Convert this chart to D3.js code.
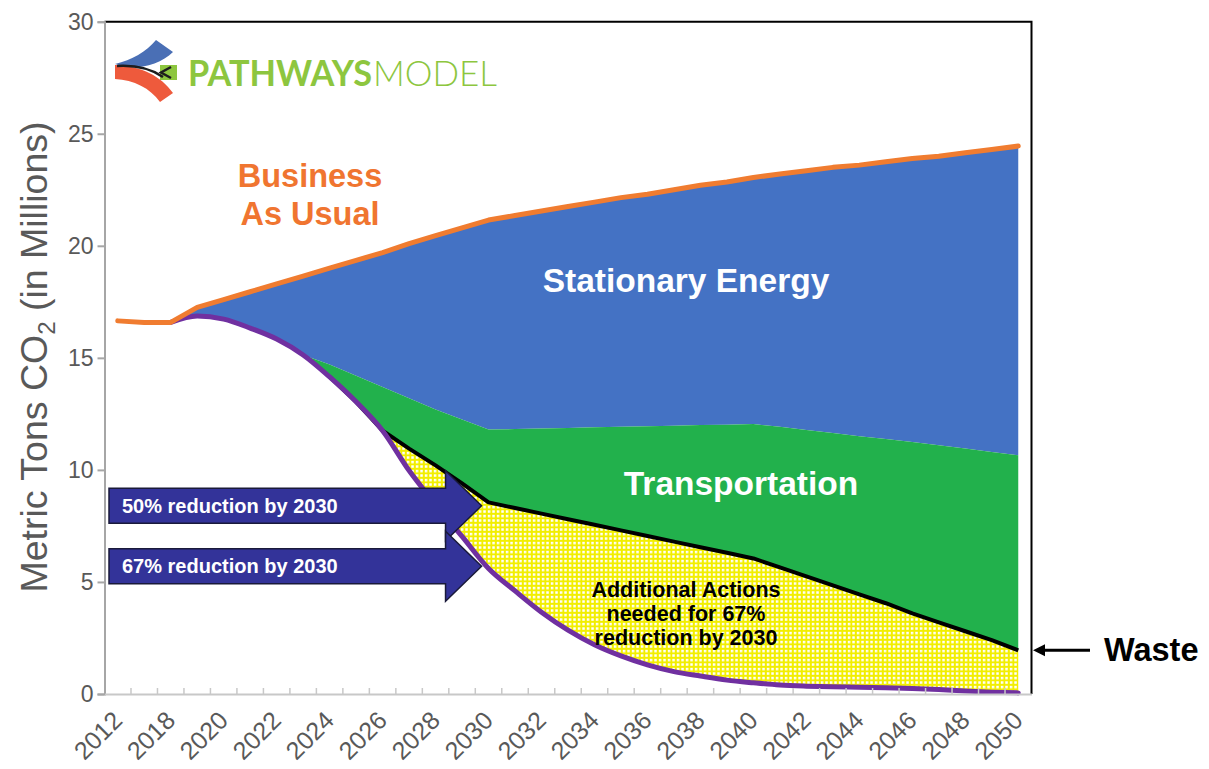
<!DOCTYPE html>
<html>
<head>
<meta charset="utf-8">
<script src="https://cdn.jsdelivr.net/npm/d3@7"></script>
<style>
  body { margin: 0; background: #fff; }
</style>
</head>
<body>
<div id="chart"></div>
<script>
const years = ['2012', '2017', '2018', '2019', '2020', '2021', '2022', '2023', '2024', '2025',
  '2026', '2027', '2028', '2029', '2030', '2031', '2032', '2033', '2034', '2035',
  '2036', '2037', '2038', '2039', '2040', '2041', '2042', '2043', '2044', '2045',
  '2046', '2047', '2048', '2049', '2050']

// business as usual (top of stationary energy)
const bau = [16.65, 16.58, 16.58, 17.25, 17.6, 17.95, 18.3, 18.65, 19.0, 19.35,
  19.7, 20.1, 20.45, 20.8, 21.15, 21.35, 21.55, 21.75, 21.95, 22.15,
  22.3, 22.5, 22.7, 22.85, 23.05, 23.2, 23.35, 23.5, 23.6, 23.75,
  23.9, 24.0, 24.15, 24.3, 24.45]
// top of transportation
const transportTop = [16.65, 16.58, 16.58, 16.87, 16.73, 16.33, 15.84, 15.13, 14.7, 14.2,
  13.7, 13.2, 12.7, 12.25, 11.8, 11.82, 11.85, 11.87, 11.9, 11.92,
  11.95, 11.97, 12.0, 12.02, 12.05, 11.92, 11.78, 11.65, 11.5, 11.38,
  11.25, 11.1, 10.95, 10.8, 10.65]
// waste line (50% path)
const waste = [16.65, 16.58, 16.58, 16.87, 16.73, 16.33, 15.84, 15.13, 14.15, 13.04,
  11.75, 10.95, 10.2, 9.4, 8.55, 8.3, 8.05, 7.8, 7.55, 7.3,
  7.05, 6.8, 6.55, 6.3, 6.05, 5.65, 5.25, 4.85, 4.45, 4.05,
  3.6, 3.2, 2.8, 2.4, 1.95]
// 67% reduction path
const path67 = [16.65, 16.58, 16.58, 16.87, 16.73, 16.33, 15.84, 15.13, 14.15, 13.04,
  11.75, 9.97, 8.46, 7.03, 5.6, 4.6, 3.65, 2.85, 2.2, 1.7,
  1.3, 1.0, 0.8, 0.62, 0.5, 0.4, 0.35, 0.32, 0.3, 0.28,
  0.25, 0.2, 0.13, 0.08, 0.05]

const yTicks = [0, 5, 10, 15, 20, 25, 30]
const arrowLabels = ['50% reduction by 2030', '67% reduction by 2030']
const arrowTargets = [8.4, 5.7]

const width = 1209
const height = 769
const marginTop = 21.7
const marginLeft = 104.5
const plotRight = 1031.5
const plotBottom = 694

const data = years.map((y, i) => ({ year: y, bau: bau[i], top: transportTop[i], waste: waste[i], p67: path67[i] }))

const svg = d3.select('#chart')
  .append('svg')
  .attr('width', width)
  .attr('height', height)
  .style('font-family', 'Liberation Sans, Arial, sans-serif')

const defs = svg.append('defs')
const pat = defs.append('pattern')
  .attr('id', 'hatch')
  .attr('patternUnits', 'userSpaceOnUse')
  .attr('width', 4.5)
  .attr('height', 4.5)
pat.append('rect').attr('width', 4.5).attr('height', 4.5).attr('fill', '#f2ee00')
pat.append('rect').attr('x', 1.8).attr('y', 1.8).attr('width', 2.5).attr('height', 2.5).attr('fill', '#ffffff')

const xScale = d3.scaleBand()
  .domain(years)
  .range([marginLeft, plotRight])
  .padding(0)
const cx = d => xScale(d) + xScale.bandwidth() / 2

const yScale = d3.scaleLinear()
  .domain([0, 30])
  .range([plotBottom, marginTop])

// areas
const blueArea = d3.area().x(d => cx(d.year)).y0(d => yScale(d.top)).y1(d => yScale(d.bau))
const greenArea = d3.area().x(d => cx(d.year)).y0(d => yScale(d.waste)).y1(d => yScale(d.top))
const yellowArea = d3.area().x(d => cx(d.year)).y0(yScale(0)).y1(d => yScale(d.waste))
const whiteArea = d3.area().x(d => cx(d.year)).y0(yScale(0)).y1(d => yScale(d.p67)).curve(d3.curveMonotoneX)

svg.append('path').datum(data).attr('d', blueArea).attr('fill', '#4472c4')
svg.append('path').datum(data).attr('d', greenArea).attr('fill', '#22b14c')
svg.append('path').datum(data.filter(d => +d.year >= 2024)).attr('d', yellowArea).attr('fill', 'url(#hatch)')
svg.append('path').datum(data).attr('d', whiteArea).attr('fill', '#ffffff')

const wasteLine = d3.line().x(d => cx(d.year)).y(d => yScale(d.waste))
const p67Line = d3.line().x(d => cx(d.year)).y(d => yScale(d.p67)).curve(d3.curveMonotoneX)
const bauLine = d3.line().x(d => cx(d.year)).y(d => yScale(d.bau))

svg.append('path').datum(data.filter(d => +d.year >= 2024)).attr('d', wasteLine)
  .attr('fill', 'none').attr('stroke', '#000').attr('stroke-width', 4).attr('stroke-linejoin', 'round')
svg.append('path').datum(data.filter(d => +d.year >= 2018)).attr('d', p67Line)
  .attr('fill', 'none').attr('stroke', '#7030a0').attr('stroke-width', 5).attr('stroke-linecap', 'round')
svg.append('path').datum(data).attr('d', bauLine)
  .attr('fill', 'none').attr('stroke', '#f07c30').attr('stroke-width', 5)
  .attr('stroke-linecap', 'round').attr('stroke-linejoin', 'round')

// frame: top and right black
svg.append('path')
  .attr('d', `M${marginLeft},${marginTop}H${plotRight}V${plotBottom}`)
  .attr('fill', 'none').attr('stroke', '#000').attr('stroke-width', 2)

// y axis
const yAxis = d3.axisLeft(yScale).tickValues(yTicks).tickSize(7).tickPadding(4).tickFormat(d3.format('d'))
const gy = svg.append('g').attr('transform', `translate(${marginLeft},0)`).call(yAxis)
gy.select('.domain').attr('stroke', '#a6a6a6').attr('stroke-width', 2)
gy.selectAll('.tick line').attr('stroke', '#a6a6a6').attr('stroke-width', 2)
gy.selectAll('.tick text').attr('fill', '#595959').style('font-size', '23px')
  .style('font-family', 'Liberation Sans, Arial, sans-serif')

// x axis
const xAxis = d3.axisBottom(xScale).tickSize(0).tickFormat((d, i) => i % 2 === 0 ? d : '')
const gx = svg.append('g').attr('transform', `translate(0,${plotBottom})`).call(xAxis)
gx.select('.domain').attr('stroke', '#c8c8c8').attr('stroke-width', 2)
gx.selectAll('.tick text')
  .attr('x', 0).attr('y', 0).attr('dy', 0)
  .attr('transform', 'translate(6,28) rotate(-45)')
  .attr('text-anchor', 'end')
  .attr('fill', '#595959')
  .style('font-size', '25px')
  .style('font-family', 'Liberation Sans, Arial, sans-serif')
// category boundary ticks, pointing up
svg.append('g')
  .selectAll('line')
  .data(years.slice(1))
  .enter()
  .append('line')
  .attr('x1', d => xScale(d)).attr('x2', d => xScale(d))
  .attr('y1', plotBottom).attr('y2', plotBottom - 6)
  .attr('stroke', '#c8c8c8').attr('stroke-width', 1.5)

// y axis title
svg.append('text')
  .attr('transform', 'translate(47,357) rotate(-90)')
  .attr('text-anchor', 'middle')
  .attr('fill', '#595959')
  .style('font-size', '37.5px')
  .call(t => {
    t.append('tspan').text('Metric Tons CO')
    t.append('tspan').text('2').style('font-size', '24px').attr('dy', 8)
    t.append('tspan').text(' (in Millions)').attr('dy', -8)
  })

// reduction arrows
const arrowG = svg.append('g')
arrowLabels.forEach((label, i) => {
  const ty = yScale(arrowTargets[i])
  const tipX = cx('2030') - 7
  const baseX = tipX - 36
  const left = 109
  const hb = 17.5
  const hh = 35
  arrowG.append('path')
    .attr('d', `M${left},${ty - hb}H${baseX}V${ty - hh}L${tipX},${ty}L${baseX},${ty + hh}V${ty + hb}H${left}Z`)
    .attr('fill', '#333399')
    .attr('stroke', '#1a1a3a')
    .attr('stroke-width', 1.5)
  arrowG.append('text')
    .attr('x', left + 13)
    .attr('y', ty + 7)
    .attr('fill', '#fff')
    .attr('font-weight', 'bold')
    .style('font-size', '20px')
    .text(label)
})

// area labels
svg.append('text').attr('x', 310).attr('y', 187).attr('text-anchor', 'middle')
  .attr('fill', '#f07530').attr('font-weight', 'bold').style('font-size', '32.5px').text('Business')
svg.append('text').attr('x', 310).attr('y', 225).attr('text-anchor', 'middle')
  .attr('fill', '#f07530').attr('font-weight', 'bold').style('font-size', '32.5px').text('As Usual')
svg.append('text').attr('x', 686).attr('y', 292).attr('text-anchor', 'middle')
  .attr('fill', '#fff').attr('font-weight', 'bold').style('font-size', '33.5px').text('Stationary Energy')
svg.append('text').attr('x', 741).attr('y', 495).attr('text-anchor', 'middle')
  .attr('fill', '#fff').attr('font-weight', 'bold').style('font-size', '33.5px').text('Transportation')
const addLines = ['Additional Actions', 'needed for 67%', 'reduction by 2030']
addLines.forEach((l, i) => {
  svg.append('text').attr('x', 686).attr('y', 597 + i * 24).attr('text-anchor', 'middle')
    .attr('fill', '#000').attr('font-weight', 'bold').style('font-size', '21.5px').text(l)
})

// waste callout
const wy = yScale(waste[waste.length - 1])
svg.append('line').attr('x1', 1090).attr('x2', 1040).attr('y1', wy).attr('y2', wy)
  .attr('stroke', '#000').attr('stroke-width', 3)
svg.append('path').attr('d', `M1033,${wy}L1045,${wy - 6}L1045,${wy + 6}Z`).attr('fill', '#000')
svg.append('text').attr('x', 1104).attr('y', wy + 11).attr('fill', '#000')
  .attr('font-weight', 'bold').style('font-size', '32.5px').text('Waste')

// logo
const logo = svg.append('g')
logo.append('rect').attr('x', 160).attr('y', 65).attr('width', 17).attr('height', 15).attr('fill', '#8dc63f')
logo.append('path').attr('d', 'M115,64 C132,60 146,52 156,40 L173,52 C163,62 148,67 130,68 Z').attr('fill', '#4a6fb5')
logo.append('path').attr('d', 'M115,65 L115,79 C134,80 150,88 160,102 L173,93 C161,76 141,66 115,65 Z').attr('fill', '#ee5a3c')
logo.append('path').attr('d', 'M117,66 C134,65 150,68 163,77').attr('fill', 'none').attr('stroke', '#1d1d1d').attr('stroke-width', 2.5)
logo.append('path').attr('d', 'M171,67 L161,72.5 L171,78').attr('fill', 'none').attr('stroke', '#1d1d1d').attr('stroke-width', 2.5)
logo.append('text').attr('x', 188).attr('y', 86).attr('fill', '#8dc63f')
  .attr('font-weight', 'bold').style('font-family', 'Lato, sans-serif').style('font-size', '36px')
  .attr('textLength', 184).attr('lengthAdjust', 'spacingAndGlyphs').text('PATHWAYS')
logo.append('text').attr('x', 373).attr('y', 86).attr('fill', '#8dc63f')
  .attr('font-weight', 300).style('font-family', 'Lato, sans-serif').style('font-size', '36px')
  .attr('textLength', 124).attr('lengthAdjust', 'spacingAndGlyphs').text('MODEL')
</script>
</body>
</html>
